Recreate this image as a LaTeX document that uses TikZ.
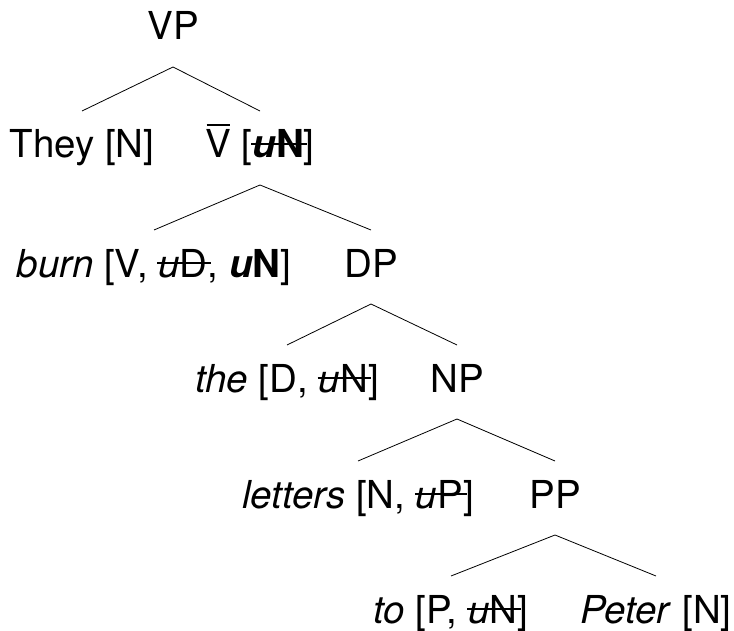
\documentclass[tikz,border=0pt]{standalone}
\usepackage{fontspec}
\setmainfont{TeX Gyre Heros}
\usetikzlibrary{calc}
\newsavebox\strkbox
\newcommand{\strk}[1]{\sbox\strkbox{#1}\rlap{\hskip-0.03em\raisebox{0.33em}{\rule{\dimexpr\wd\strkbox+0.12em\relax}{0.05em}}}\usebox\strkbox}
\newcommand{\barV}{\sbox\strkbox{V}\rlap{\hskip0.03em\raisebox{0.84em}{\rule{\dimexpr\wd\strkbox-0.06em\relax}{0.05em}}}\usebox\strkbox}
\tikzset{
  lab/.style={anchor=base, inner sep=0pt, font=\fontsize{38.5}{46}\selectfont},
  branch/.style={line width=0.8pt, black}
}
\begin{document}
\begin{tikzpicture}[x=1pt,y=-1pt]
\useasboundingbox (0,0) rectangle (734,631);
\node[lab] (vp) at (173,40) {VP};
\node[lab] (they) at (82,158) {They [N]};
\node[lab] (vbar) at (260,158) {\barV{} [\strk{\textbf{\textit{u}N}}]};
\node[lab] (burn) at (154,277) {\textit{burn} [V, \strk{\textit{u}D}, \textbf{\textit{u}N}]};
\node[lab] (dp) at (371,277) {DP};
\node[lab] (the) at (287,392) {\textit{the} [D, \strk{\textit{u}N}]};
\node[lab] (np) at (457,392) {NP};
\node[lab] (letters) at (358,508) {\textit{letters} [N, \strk{\textit{u}P}]};
\node[lab] (pp) at (555,508) {PP};
\node[lab] (to) at (451,623) {\textit{to} [P, \strk{\textit{u}N}]};
\node[lab] (peter) at (656,623) {\textit{Peter} [N]};
\foreach \p/\a/\b in {vp/they/vbar, vbar/burn/dp, dp/the/np, np/letters/pp, pp/to/peter}{
  \draw[branch] ($(\a.base)+(0,-47)$) -- ($(\p.base)+(0,27)$) -- ($(\b.base)+(0,-47)$);
}
\end{tikzpicture}
\end{document}
